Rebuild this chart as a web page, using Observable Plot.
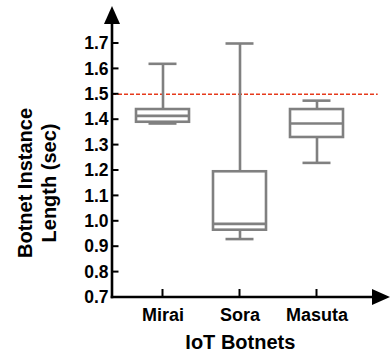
<!DOCTYPE html>
<html>
<head>
<meta charset="utf-8">
<script src="https://cdn.jsdelivr.net/npm/d3@7"></script>
<script src="https://cdn.jsdelivr.net/npm/@observablehq/plot@0.6"></script>
<style>
  html, body { margin: 0; padding: 0; background: #fff; }
  #chart svg { display: block; }
</style>
</head>
<body>
<div id="chart"></div>
<script>
// Box-plot summaries of botnet instance length (seconds)
const botnets = ["Mirai", "Sora", "Masuta"];
const minValues = [1.385, 0.93, 1.23];
const q1Values = [1.39, 0.965, 1.33];
const medianValues = [1.415, 0.99, 1.385];
const q3Values = [1.44, 1.195, 1.44];
const maxValues = [1.62, 1.70, 1.475];
const yTicks = [0.7, 0.8, 0.9, 1.0, 1.1, 1.2, 1.3, 1.4, 1.5, 1.6, 1.7];
const threshold = 1.5;

const boxes = botnets.map((name, i) => ({
  name,
  min: minValues[i],
  q1: q1Values[i],
  median: medianValues[i],
  q3: q3Values[i],
  max: maxValues[i]
}));

const W = 392, H = 354;
const boxColor = "#808080";
const boxStroke = 2.6;
const font = "Arial, 'Liberation Sans', Helvetica, sans-serif";

const chart = Plot.plot({
  width: W,
  height: H,
  marginLeft: 112,
  marginRight: 24.3,
  marginTop: 43,
  marginBottom: 57,
  style: {fontFamily: font, fontWeight: "bold", fontSize: "17px", color: "#000", background: "#fff"},
  x: {type: "band", domain: botnets, padding: 0.315},
  y: {domain: [0.7, 1.7]},
  marks: [
    Plot.axisY(yTicks, {tickSize: 0, tickPadding: 4, tickFormat: d3.format(".1f"), label: null, fontSize: 17.5, fontWeight: "bold"}),
    Plot.axisX({tickSize: 0, tickPadding: 10.5, label: null, fontSize: 18, fontWeight: "bold"}),
    // threshold line
    Plot.ruleY([threshold], {stroke: "#e63a1c", strokeWidth: 1.6, strokeDasharray: "4,2", insetRight: -10}),
    // whiskers
    Plot.ruleX(boxes, {x: "name", y1: "q3", y2: "max", stroke: boxColor, strokeWidth: boxStroke}),
    Plot.ruleX(boxes, {x: "name", y1: "min", y2: "q1", stroke: boxColor, strokeWidth: boxStroke}),
    // whisker caps
    Plot.tickY(boxes, {x: "name", y: "max", stroke: boxColor, strokeWidth: boxStroke, inset: 12.5}),
    Plot.tickY(boxes, {x: "name", y: "min", stroke: boxColor, strokeWidth: boxStroke, inset: 12.5}),
    // boxes
    Plot.barY(boxes, {x: "name", y1: "q1", y2: "q3", fill: "white", stroke: boxColor, strokeWidth: boxStroke}),
    // medians
    Plot.tickY(boxes, {x: "name", y: "median", stroke: boxColor, strokeWidth: boxStroke}),
    // axis titles
    Plot.text(["Botnet Instance\nLength (sec)"], {
      frameAnchor: "left", textAnchor: "middle", lineAnchor: "middle",
      rotate: -90, dx: -76, dy: 12.5,
      fontSize: 20, fontWeight: "bold", lineHeight: 1.17, fill: "#000"
    }),
    Plot.text(["IoT Botnets"], {
      frameAnchor: "bottom", lineAnchor: "bottom", dy: 51, fontSize: 20, fontWeight: "bold", fill: "#000"
    })
  ]
});

// Axis lines with arrowheads and inward ticks, placed from the plot's scales
const xs = chart.scale("x");
const ys = chart.scale("y");
const svg = d3.select(chart);
const x0 = xs.range[0];
const y0 = ys.apply(ys.domain[0]);
const g = svg.append("g").attr("stroke", "#000").attr("fill", "none");

// y axis line + arrow
g.append("line").attr("x1", x0).attr("x2", x0).attr("y1", y0 + 1.3).attr("y2", 22).attr("stroke-width", 2.6);
svg.append("path").attr("d", `M${x0},6L${x0 + 8},24L${x0 - 8},24Z`).attr("fill", "#000");
// x axis line + arrow
g.append("line").attr("x1", x0 - 1.3).attr("x2", 374).attr("y1", y0).attr("y2", y0).attr("stroke-width", 2.6);
svg.append("path").attr("d", `M390,${y0}L372,${y0 - 8}L372,${y0 + 8}Z`).attr("fill", "#000");

// inward y ticks
g.selectAll(".yt").data(yTicks).join("line")
  .attr("x1", x0).attr("x2", x0 + 6.5)
  .attr("y1", d => ys.apply(d)).attr("y2", d => ys.apply(d))
  .attr("stroke-width", 2);
// inward x ticks
g.selectAll(".xt").data(botnets).join("line")
  .attr("x1", d => xs.apply(d) + xs.bandwidth / 2).attr("x2", d => xs.apply(d) + xs.bandwidth / 2)
  .attr("y1", y0).attr("y2", y0 - 8)
  .attr("stroke-width", 2);

document.getElementById("chart").append(chart);
</script>
</body>
</html>
